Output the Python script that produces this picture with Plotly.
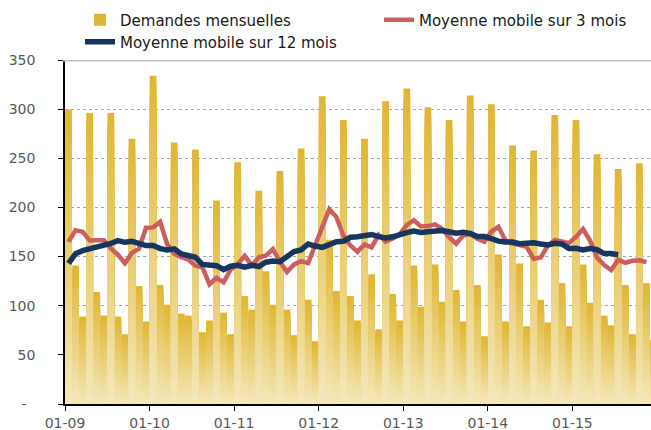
import plotly.graph_objects as go

# ---- data -------------------------------------------------------------
months = [f"{m:02d}-{y:02d}" for y in range(9, 16) for m in range(1, 13)]

demandes = [300, 141, 89, 296, 114, 90, 296, 89, 71, 270, 120, 84,
            334, 121, 101, 266, 92, 90, 259, 73, 85, 207, 93, 71,
            246, 110, 96, 217, 135, 101, 237, 96, 70, 260, 106, 64,
            313, 167, 115, 289, 110, 85, 270, 132, 76, 308, 112, 85,
            321, 141, 99, 302, 142, 104, 289, 116, 84, 314, 121, 69,
            305, 152, 84, 263, 143, 79, 258, 106, 83, 294, 123, 79,
            289, 142, 103, 254, 90, 80, 239, 121, 71, 245, 123, 65]

mm3 = [165, 176.7, 175.3, 166.3, 166.7, 166.7, 158.3, 152, 143.3, 153.7, 158, 179.3,
       179.7, 185.3, 162.7, 153, 149.3, 147, 140.7, 139, 121.7, 128.3, 123.7, 136.7,
       142.3, 150.7, 141, 149.3, 151, 157.7, 144.7, 134.3, 142, 145.3, 143.3, 161,
       181.3, 198.3, 190.3, 171.3, 161.3, 155, 162.3, 159.3, 172, 165.3, 168.3, 172.7,
       182.3, 187, 180.7, 181, 182.7, 178.3, 169.7, 163, 171.3, 173, 168, 165,
       175.3, 180.3, 166.3, 163.3, 161.7, 160, 147.7, 149, 161, 166.7, 165.3, 163.7,
       170, 178, 166.3, 149, 141.3, 136.3, 146.7, 143.7, 145.7, 146.3, 144.3]

mm12 = [143, 153, 156, 157.5, 159, 161.5,
        163.3, 166.2, 164.5, 165.5, 163, 161.2, 161.2, 158.1, 156.8, 157.9, 152.7, 150.4,
        149.3, 142, 141.1, 140.7, 136.6, 140.2, 141.1, 139.3, 141.2, 139.9, 144.3, 145.4,
        144.8, 150.4, 155.2, 156.8, 162.8, 160.7, 159.3, 162.1, 165.1, 165.6, 169.6, 170.1,
        171.8, 172.5, 170.3, 169, 170.1, 172.8, 174.3, 175.9, 174.6, 175.3, 175.8, 176.5,
        175.2, 173.8, 174.8, 173.5, 170.3, 170.3, 168.3, 165.7, 164.8, 164.8, 163.1, 163.3,
        164.1, 162.8, 161.9, 163.5, 162.8, 158.3, 158.4, 156.8, 158.1, 157.1, 153, 153, 151.8]

x_tick_labels = ["01-09", "01-10", "01-11", "01-12", "01-13", "01-14", "01-15"]
y_tick_values = [0, 50, 100, 150, 200, 250, 300, 350]
y_tick_labels = ["-\u00a0\u00a0", "50", "100", "150", "200", "250", "300", "350"]

# ---- styling -----------------------------------------------------------
GOLD = (224, 183, 52)
CREAM = (244, 231, 185)
RED = "#CC5E5E"
NAVY = "#17365F"
FONT = "DejaVu Sans"
N_LAYERS = 32

xpos = [i + 0.5 for i in range(len(demandes))]

fig = go.Figure()

# Bars with a vertical gradient (gold at the top, cream at the base),
# built from overlaid bars of decreasing height.
for j in range(N_LAYERS):
    t = j / (N_LAYERS - 1)
    col = tuple(round(GOLD[k] + (CREAM[k] - GOLD[k]) * t) for k in range(3))
    frac = (N_LAYERS - j) / N_LAYERS
    fig.add_trace(go.Bar(
        x=xpos, y=[v * frac for v in demandes],
        marker=dict(color=f"rgb{col}", line=dict(width=0)),
        name="Demandes mensuelles",
        showlegend=(j == 0),
        legend="legend",
        legendgroup="dem",
        customdata=demandes, hovertext=months,
        hovertemplate="%{hovertext}: %{customdata}<extra></extra>",
    ))

fig.add_trace(go.Scatter(
    x=xpos[:len(mm3)], y=mm3, mode="lines",
    line=dict(color=RED, width=4.5),
    name="Moyenne mobile sur 3 mois",
    legend="legend2",
))
fig.add_trace(go.Scatter(
    x=xpos[:len(mm12)], y=mm12, mode="lines",
    line=dict(color=NAVY, width=5.5),
    name="Moyenne mobile sur 12 mois",
    legend="legend3",
))

fig.add_shape(type="line", xref="paper", yref="y", x0=-0.004, x1=1, y0=350, y1=350,
              line=dict(color="#BFBFBF", width=3), layer="above")

leg_common = dict(orientation="h", xanchor="left", yanchor="middle",
                  font=dict(family=FONT, size=15, color="#1A1A1A"),
                  bgcolor="rgba(0,0,0,0)", itemclick=False)

fig.update_layout(
    width=651, height=430,
    margin=dict(l=65, r=0, t=60, b=26, autoexpand=False),
    paper_bgcolor="white", plot_bgcolor="white",
    barmode="overlay", bargap=0.04,
    font=dict(family=FONT, size=14, color="#595959"),
    showlegend=True,
    legend=dict(x=0.0256, y=1.116, **leg_common),
    legend2=dict(x=0.5358, y=1.116, **leg_common),
    legend3=dict(x=0.0256, y=1.052, **leg_common),
    xaxis=dict(range=[0, 83.15], tickmode="array",
               tickvals=[12 * k for k in range(len(x_tick_labels))],
               ticktext=x_tick_labels, ticks="outside", ticklen=5, tickcolor="black",
               showline=True, linecolor="black", linewidth=1.5,
               showgrid=False, zeroline=False, ticklabelstandoff=0),
    yaxis=dict(range=[0, 350], tickmode="array", tickvals=y_tick_values,
               ticktext=y_tick_labels, ticks="outside", ticklen=5, tickcolor="black",
               showline=True, linecolor="black", linewidth=1.5,
               showgrid=True, gridcolor="#A6A6A6", griddash="dot", gridwidth=1,
               zeroline=False, ticklabelstandoff=20),
)

# remove the browser's default 8px page margin so the figure fills the window
fig.write_html("out.html",
               config={"displayModeBar": False},
               post_script="document.body.style.margin='0';"
                           "document.body.style.overflow='hidden';")
